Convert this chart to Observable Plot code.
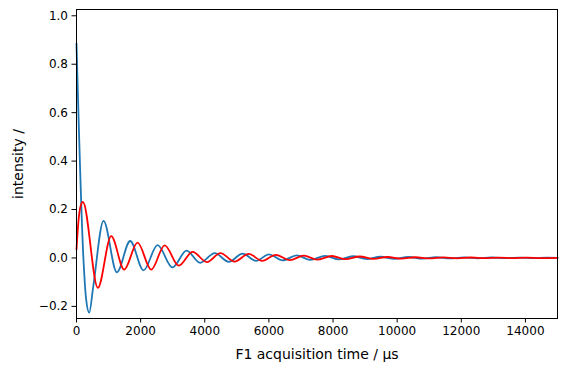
<!DOCTYPE html>
<html>
<head>
<meta charset="utf-8">
<script src="https://cdn.jsdelivr.net/npm/d3@7"></script>
<script src="https://cdn.jsdelivr.net/npm/@observablehq/plot@0.6"></script>
<style>
  html, body { margin: 0; padding: 0; background: #fff; }
  #chart svg { display: block; }
</style>
</head>
<body>
<div id="chart"></div>
<script>
const blueTime = [0, 215, 300, 397, 520, 843, 1258, 1674, 2090, 2527, 2994, 3432, 3857, 4310, 4750, 5180, 5600, 6000, 6430, 6870, 7290, 7755, 8180, 8620, 9050, 9480, 9920, 10350, 10790, 11220, 11650, 12090, 12520, 12950, 13390, 13820, 14250, 14680, 15000];
const blueValue = [0.885, 0.0, -0.17, -0.226, -0.12, 0.153, -0.059, 0.070, -0.051, 0.053, -0.039, 0.030, -0.020, 0.020, -0.016, 0.018, -0.012, 0.015, -0.010, 0.011, -0.008, 0.009, -0.006, 0.007, -0.005, 0.005, -0.004, 0.004, -0.003, 0.003, -0.002, 0.0025, -0.0015, 0.002, -0.001, 0.0015, -0.001, 0.001, 0.0];

// Red series (imaginary part)
const redTime = [0, 60, 120, 200, 666, 1082, 1487, 1903, 2330, 2750, 3190, 3620, 4066, 4490, 4930, 5370, 5790, 6220, 6650, 7090, 7500, 7960, 8390, 8830, 9260, 9700, 10130, 10570, 11000, 11440, 11870, 12300, 12740, 13170, 13600, 14040, 14470, 15000];
const redValue = [0.035, 0.15, 0.21, 0.231, -0.123, 0.090, -0.048, 0.063, -0.048, 0.052, -0.032, 0.025, -0.017, 0.020, -0.015, 0.017, -0.012, 0.013, -0.009, 0.010, -0.007, 0.008, -0.005, 0.006, -0.004, 0.004, -0.003, 0.003, -0.002, 0.0025, -0.0015, 0.002, -0.001, 0.0015, -0.001, 0.001, -0.0008, 0.0];

const xTicks = [0, 2000, 4000, 6000, 8000, 10000, 12000, 14000];
const yTicks = [-0.2, 0.0, 0.2, 0.4, 0.6, 0.8, 1.0];
const xLabel = "F1 acquisition time / µs";
const yLabel = "intensity /";

const blue = blueTime.map((t, i) => ({t, v: blueValue[i]}));
const red = redTime.map((t, i) => ({t, v: redValue[i]}));

const chart = Plot.plot({
  width: 566,
  height: 374,
  marginLeft: 76,
  marginRight: 9,
  marginTop: 9,
  marginBottom: 56,
  style: {fontFamily: "DejaVu Sans", fontSize: "12px", color: "#000", background: "#fff"},
  x: {domain: [0, 15000]},
  y: {domain: [-0.25, 1.026]},
  marks: [
    Plot.line(blue, {x: "t", y: "v", stroke: "#1f77b4", strokeWidth: 1.8, curve: "monotone-x"}),
    Plot.line(red, {x: "t", y: "v", stroke: "#ff0000", strokeWidth: 1.8, curve: "monotone-x"}),
    Plot.frame({stroke: "#000", strokeWidth: 1}),
    Plot.axisX({ticks: xTicks, tickFormat: d3.format("d"), tickSize: 4.5, tickPadding: 3, label: null, fontSize: 12}),
    Plot.axisY({ticks: yTicks, tickFormat: d3.format(".1f"), tickSize: 4.5, tickPadding: 4, label: null, fontSize: 12}),
    Plot.text([xLabel], {frameAnchor: "bottom", dy: 36, fontSize: 14, lineAnchor: "middle", text: d => d}),
    Plot.text([yLabel], {frameAnchor: "left", dx: -58, rotate: -90, fontSize: 14, textAnchor: "middle", lineAnchor: "middle", text: d => d})
  ]
});
document.getElementById("chart").appendChild(chart);
</script>
</body>
</html>
